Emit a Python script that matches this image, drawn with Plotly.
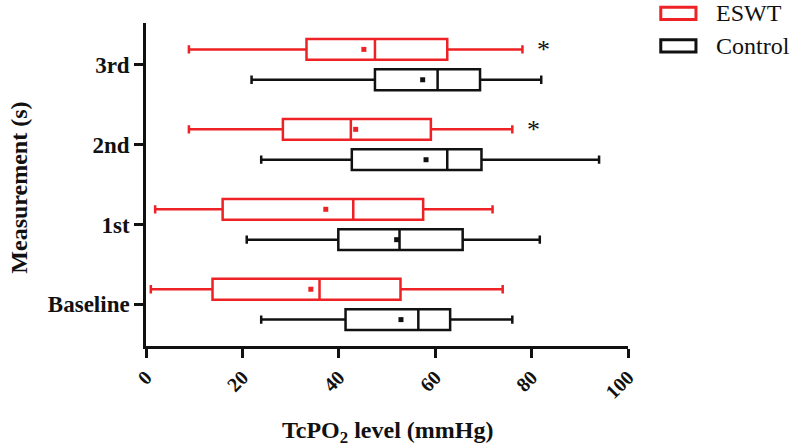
import plotly.graph_objects as go

categories = ["Baseline", "1st", "2nd", "3rd"]

eswt_lower = [1.0, 1.9, 8.9, 8.9]
eswt_q1 = [13.8, 15.9, 28.4, 33.3]
eswt_median = [36.0, 43.0, 42.5, 47.5]
eswt_q3 = [52.8, 57.5, 59.1, 62.5]
eswt_upper = [74.0, 71.9, 76.0, 78.1]
eswt_mean = [34.2, 37.3, 43.5, 45.2]
eswt_sig = ["", "", "*", "*"]

ctrl_lower = [23.9, 20.9, 23.9, 21.9]
ctrl_q1 = [41.4, 39.9, 42.7, 47.5]
ctrl_median = [56.5, 52.6, 62.5, 60.5]
ctrl_q3 = [63.1, 65.7, 69.6, 69.3]
ctrl_upper = [76.0, 81.7, 94.0, 82.0]
ctrl_mean = [52.9, 52.0, 58.1, 57.4]

series_names = ["ESWT", "Control"]

FONT = "Liberation Serif"
RED = "#ee2124"
BLACK = "#111111"
OFF = 0.19
BW = 0.26

idx = list(range(len(categories)))
y_eswt = [i + OFF for i in idx]
y_ctrl = [i - OFF for i in idx]

fig = go.Figure()

def add_box(name, ypos, lo, q1, med, q3, hi, color):
    fig.add_trace(go.Box(
        name=name, orientation="h", y=ypos,
        q1=q1, median=med, q3=q3, lowerfence=lo, upperfence=hi,
        width=BW, whiskerwidth=0.4, boxpoints=False,
        line=dict(color=color, width=2.5), fillcolor="white",
        hoverinfo="skip", showlegend=False,
    ))

add_box(series_names[0], y_eswt, eswt_lower, eswt_q1, eswt_median, eswt_q3, eswt_upper, RED)
add_box(series_names[1], y_ctrl, ctrl_lower, ctrl_q1, ctrl_median, ctrl_q3, ctrl_upper, BLACK)

fig.add_trace(go.Scatter(x=eswt_mean, y=y_eswt, mode="markers", showlegend=False,
                         marker=dict(color=RED, size=5, symbol="square")))
fig.add_trace(go.Scatter(x=ctrl_mean, y=y_ctrl, mode="markers", showlegend=False,
                         marker=dict(color=BLACK, size=5, symbol="square")))

for i, s in enumerate(eswt_sig):
    if s:
        fig.add_annotation(x=eswt_upper[i] + 4.4, y=y_eswt[i], text=s, showarrow=False,
                           xanchor="center", yanchor="middle",
                           font=dict(family=FONT, size=26, color=BLACK))

# custom legend (swatch + label)
legend_rows = [(series_names[0], RED, 1.030), (series_names[1], BLACK, 0.929)]
for name, color, yc in legend_rows:
    fig.add_shape(type="rect", xref="paper", yref="paper",
                  x0=1.068, x1=1.141, y0=yc - 0.019, y1=yc + 0.019,
                  line=dict(color=color, width=3), fillcolor="white")
    fig.add_annotation(xref="paper", yref="paper", x=1.178, y=yc, text=name,
                       showarrow=False, xanchor="left", yanchor="middle",
                       font=dict(family=FONT, size=24, color=BLACK))

# axis titles
fig.add_annotation(xref="paper", yref="paper", x=0.5, y=-0.266,
                   text="<b>TcPO<sub>2</sub> level (mmHg)</b>", showarrow=False,
                   xanchor="center", yanchor="middle",
                   font=dict(family=FONT, size=24, color=BLACK))
fig.add_annotation(xref="paper", yref="paper", x=-0.263, y=0.491,
                   text="<b>Measurement (s)</b>", showarrow=False, textangle=-90,
                   xanchor="center", yanchor="middle",
                   font=dict(family=FONT, size=24, color=BLACK))

fig.update_layout(
    width=800, height=446,
    margin=dict(l=146, r=172, t=23, b=100, autoexpand=False),
    plot_bgcolor="white", paper_bgcolor="white",
    showlegend=False,
    font=dict(family=FONT, color=BLACK),
)

fig.update_xaxes(
    range=[0, 100], tickvals=[0, 20, 40, 60, 80, 100], tickangle=-45,
    showline=True, linecolor=BLACK, linewidth=2.5, automargin=False,
    ticks="outside", ticklen=9, tickwidth=2.5, tickcolor=BLACK,
    showgrid=False, zeroline=False,
    tickfont=dict(family=FONT, size=20, color=BLACK, weight="bold"),
)
fig.update_yaxes(
    range=[-0.52, 3.52], tickvals=idx, ticktext=categories,
    showline=True, linecolor=BLACK, linewidth=2.5, automargin=False,
    ticks="outside", ticklen=9, tickwidth=2.5, tickcolor=BLACK,
    showgrid=False, zeroline=False,
    tickfont=dict(family=FONT, size=23, color=BLACK, weight="bold"),
)

fig.write_html("out.html", config={"displayModeBar": False},
               post_script="document.body.style.margin='0';document.body.style.overflow='hidden';")
